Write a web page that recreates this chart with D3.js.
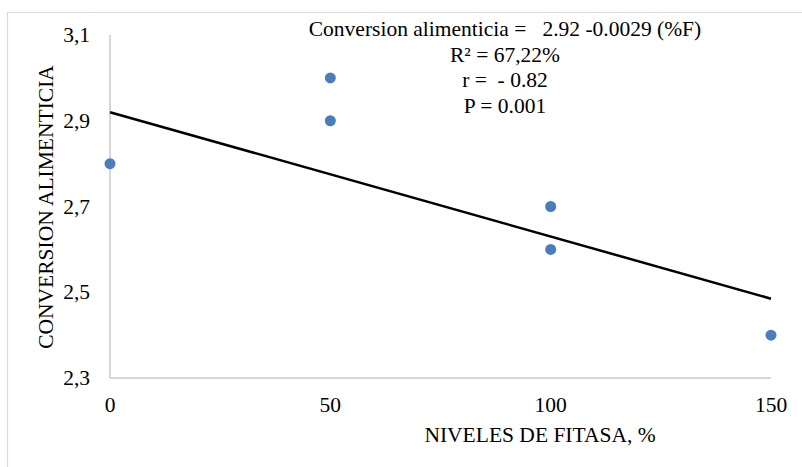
<!DOCTYPE html>
<html>
<head>
<meta charset="utf-8">
<script src="https://cdn.jsdelivr.net/npm/d3@7"></script>
<style>
  body { margin: 0; background: #fff; }
</style>
</head>
<body>
<svg id="chart" width="802" height="467"></svg>
<script>
// Datos
const fitasa = [0, 50, 50, 100, 100, 150];
const conversion = [2.8, 3.0, 2.9, 2.7, 2.6, 2.4];
const xTicks = [0, 50, 100, 150];
const yTicks = [2.3, 2.5, 2.7, 2.9, 3.1];
const trend = { intercept: 2.92, slope: -0.0029 };
const annotation = [
  "Conversion alimenticia =   2.92 -0.0029 (%F)",
  "R² = 67,22%",
  "r =  - 0.82",
  "P = 0.001"
];

const serif = "'Liberation Serif', 'Times New Roman', Times, 'DejaVu Serif', serif";
const svg = d3.select("#chart")
  .attr("font-family", serif);

// Chart area border (top and left only visible)
svg.append("path")
  .attr("d", "M7.5,480 V12.5 H810")
  .attr("fill", "none")
  .attr("stroke", "#d9d9d9")
  .attr("stroke-width", 1.2);

const x = d3.scaleLinear().domain([0, 150]).range([110, 771]);
const y = d3.scaleLinear().domain([2.3, 3.1]).range([378, 35]);

// Axis lines
svg.append("line")
  .attr("x1", x(0)).attr("x2", x(0))
  .attr("y1", y(3.1)).attr("y2", y(2.3))
  .attr("stroke", "#c8c8c8").attr("stroke-width", 1.5);
svg.append("line")
  .attr("x1", x(0)).attr("x2", x(150))
  .attr("y1", y(2.3)).attr("y2", y(2.3))
  .attr("stroke", "#c8c8c8").attr("stroke-width", 1.5);

// Tick labels
svg.selectAll("text.ytick")
  .data(yTicks)
  .enter()
  .append("text")
  .attr("class", "ytick")
  .attr("x", 90)
  .attr("y", d => y(d) + 7)
  .attr("text-anchor", "end")
  .attr("font-family", serif)
  .attr("font-size", "21.5px")
  .text(d => d3.format(".1f")(d).replace(".", ","));

svg.selectAll("text.xtick")
  .data(xTicks)
  .enter()
  .append("text")
  .attr("class", "xtick")
  .attr("x", d => x(d))
  .attr("y", 412)
  .attr("text-anchor", "middle")
  .attr("font-family", serif)
  .attr("font-size", "21.5px")
  .text(d => d);

// Axis titles
svg.append("text")
  .attr("x", 540)
  .attr("y", 442)
  .attr("text-anchor", "middle")
  .attr("font-family", serif)
  .attr("font-size", "21.5px")
  .text("NIVELES DE FITASA, %");

svg.append("text")
  .attr("transform", "translate(53,207) rotate(-90)")
  .attr("text-anchor", "middle")
  .attr("font-family", serif)
  .attr("font-size", "21.5px")
  .text("CONVERSION ALIMENTICIA");

// Trend line
svg.append("line")
  .attr("x1", x(0))
  .attr("y1", y(trend.intercept))
  .attr("x2", x(150))
  .attr("y2", y(trend.intercept + trend.slope * 150))
  .attr("stroke", "#000")
  .attr("stroke-width", 2.5);

// Points
svg.selectAll("circle.pt")
  .data(fitasa.map((f, i) => [f, conversion[i]]))
  .enter()
  .append("circle")
  .attr("class", "pt")
  .attr("cx", d => x(d[0]))
  .attr("cy", d => y(d[1]))
  .attr("r", 5.5)
  .attr("fill", "#4a7ebb");

// Annotation
svg.selectAll("text.note")
  .data(annotation)
  .enter()
  .append("text")
  .attr("class", "note")
  .attr("x", 505)
  .attr("y", (d, i) => 36 + i * 25.7)
  .attr("text-anchor", "middle")
  .attr("font-family", serif)
  .attr("font-size", "21.5px")
  .style("white-space", "pre")
  .text(d => d);
</script>
</body>
</html>
